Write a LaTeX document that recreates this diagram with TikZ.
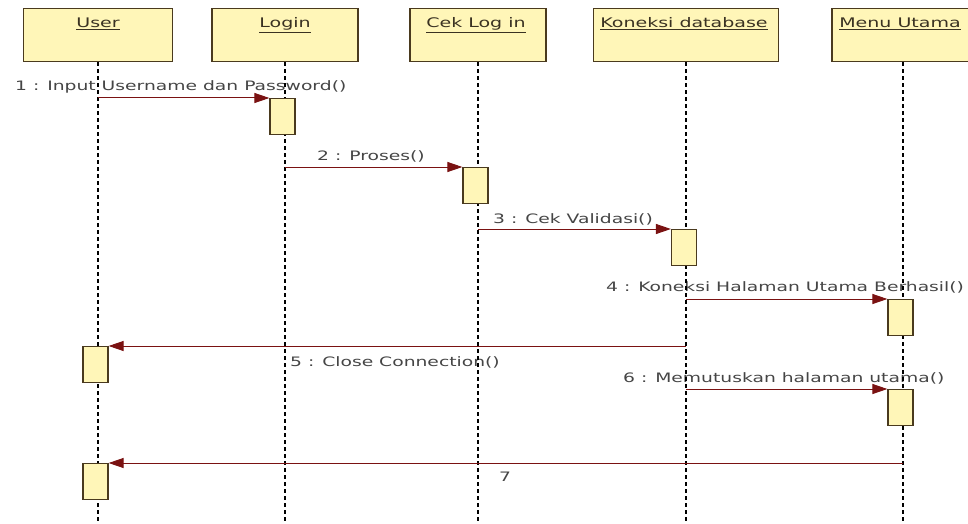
\documentclass[tikz,border=0pt]{standalone}
\usepackage{fontspec}
\setmainfont{DejaVu Sans}[FakeStretch=1.44]
\usetikzlibrary{arrows.meta}
\definecolor{boxfill}{HTML}{FFF6B8}
\definecolor{boxline}{HTML}{4A3A1E}
\definecolor{msgline}{HTML}{7A1212}
\definecolor{labeltext}{HTML}{454545}
\definecolor{headtext}{HTML}{3A3222}
\begin{document}
\begin{tikzpicture}[x=1pt,y=-1pt,
  header/.style={draw=boxline, fill=boxfill, line width=1.3pt, minimum height=53pt,
                 inner sep=0pt, anchor=north},
  headlabel/.style={anchor=base, inner sep=0pt, text=headtext, font=\fontsize{13.2}{15}\selectfont},
  lifeline/.style={line width=1.8pt, dash pattern=on 3.5pt off 3.5pt},
  actbox/.style={draw=boxline, fill=boxfill, line width=1.2pt, minimum width=25pt,
                 minimum height=36pt, inner sep=0pt, anchor=north},
  msg/.style={draw=msgline, line width=1pt, -{Triangle[length=15pt,width=10pt]}},
  msglabel/.style={anchor=base west, inner sep=0pt, text=labeltext, font=\fontsize{13}{15}\selectfont}
]
\useasboundingbox (0,0) rectangle (968,524);
\clip (0,0) rectangle (968,524);

% object boxes along the top
\node[header, minimum width=149pt] (user)  at (98,8)  {};
\node[header, minimum width=146pt] (login) at (285,8) {};
\node[header, minimum width=136pt] (cek)   at (478,8) {};
\node[header, minimum width=185pt] (db)    at (686,8) {};
\node[header, minimum width=142pt] (menu)  at (903,8) {};

\node[headlabel] (userlbl)  at (98,28)  {\underline{User}};
\node[headlabel] (loginlbl) at (285,28) {\underline{Login}};
\node[headlabel] (ceklbl)   at (476,28) {\underline{Cek Log in}};
\node[headlabel] (dblbl)    at (684,28) {\underline{Koneksi database}};
\node[headlabel] (menulbl)  at (900,28) {\underline{Menu Utama}};

% message labels
\node[msglabel] (l1) at (15,91)   {1 : Input Username dan Password()};
\node[msglabel] (l2) at (317,160) {2 : Proses()};
\node[msglabel] (l3) at (493,223) {3 : Cek Validasi()};
\node[msglabel] (l4) at (606,291) {4 : Koneksi Halaman Utama Berhasil()};
\node[msglabel] (l5) at (290,366) {5 : Close Connection()};
\node[msglabel] (l6) at (623,382) {6 : Memutuskan halaman utama()};
\node[msglabel] (l7) at (499,481) {7};

% lifelines
\coordinate (userend)  at (98,524);
\coordinate (loginend) at (285,524);
\coordinate (cekend)   at (478,524);
\coordinate (dbend)    at (686,524);
\coordinate (menuend)  at (903,524);
\draw[lifeline] (user.south)  -- (userend);
\draw[lifeline] (login.south) -- (loginend);
\draw[lifeline] (cek.south)   -- (cekend);
\draw[lifeline] (db.south)    -- (dbend);
\draw[lifeline] (menu.south)  -- (menuend);

% activation bars
\node[actbox] (a1) at (282.5,98)  {};
\node[actbox] (a2) at (475.5,167) {};
\node[actbox] (a3) at (684,229)   {};
\node[actbox] (a4) at (900.5,299) {};
\node[actbox] (a5) at (95.5,346)  {};
\node[actbox] (a6) at (900.5,389) {};
\node[actbox] (a7) at (95.5,463)  {};

% message origins on the lifelines
\coordinate (s1) at (98,98);
\coordinate (s2) at (285,167);
\coordinate (s3) at (478,229);
\coordinate (s4) at (686,299);
\coordinate (s5) at (686,346);
\coordinate (s6) at (686,389);
\coordinate (s7) at (903,463);

% messages
\draw[msg] (s1) -- (a1.north west);
\draw[msg] (s2) -- (a2.north west);
\draw[msg] (s3) -- (a3.north west);
\draw[msg] (s4) -- (a4.north west);
\draw[msg] (s5) -- (a5.north east);
\draw[msg] (s6) -- (a6.north west);
\draw[msg] (s7) -- (a7.north east);
\end{tikzpicture}
\end{document}
